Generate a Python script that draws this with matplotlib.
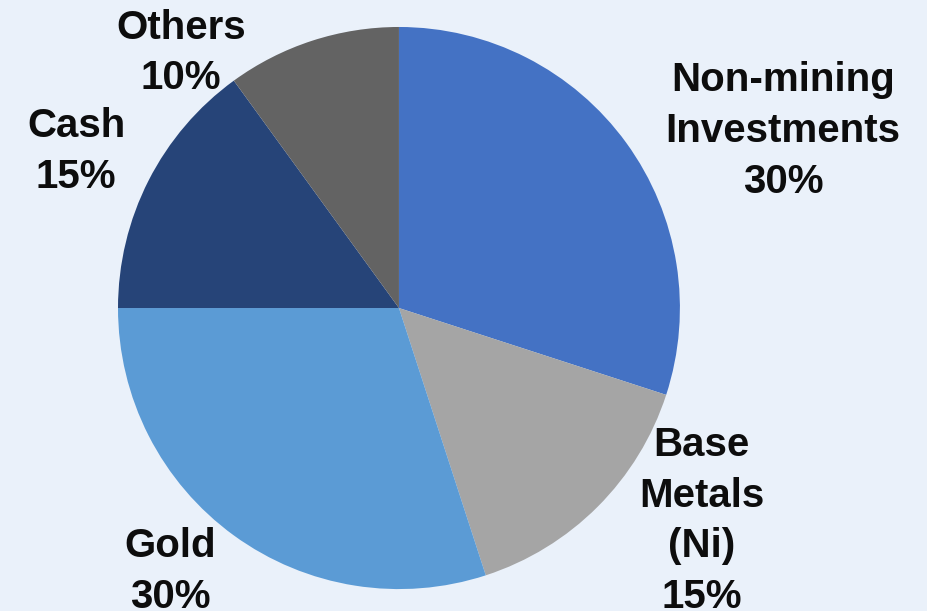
import numpy as np
import matplotlib.pyplot as plt

# portfolio split, clockwise from 12 o'clock
names = ['Non-mining\nInvestments', 'Base\nMetals\n(Ni)', 'Gold', 'Cash', 'Others']
shares = [30, 15, 30, 15, 10]
colors = ['#4472C4', '#A5A5A5', '#5B9BD5', '#264478', '#636363']

bg = '#EAF1FA'

fig = plt.figure(figsize=(9.28, 6.11), dpi=100, facecolor=bg)
ax = fig.add_axes([0, 0, 1, 1])
ax.set_facecolor(bg)

wedges, texts = ax.pie(shares, colors=colors, startangle=90, counterclock=False,
                       radius=1.0, labels=[n + '\n' + str(s) + '%' for n, s in zip(names, shares)],
                       labeldistance=1.3,
                       textprops=dict(fontsize=29, fontweight='bold', color='#0d0d0d',
                                      family='Liberation Sans', ha='center', va='center',
                                      linespacing=1.42))

# label spots, by hand to match the original layout
spots = [(1.367, 0.630), (1.078, -0.758), (-0.815, -0.937), (-1.149, 0.556), (-0.776, 0.907)]
for t, p in zip(texts, spots):
    t.set_position(p)
    t.set_horizontalalignment('center')

ax.set_xlim(-1.42, 1.883)
ax.set_ylim(-1.078, 1.096)
ax.set_aspect('auto')
ax.axis('off')

fig.savefig('out.png', dpi=100, facecolor=bg)
